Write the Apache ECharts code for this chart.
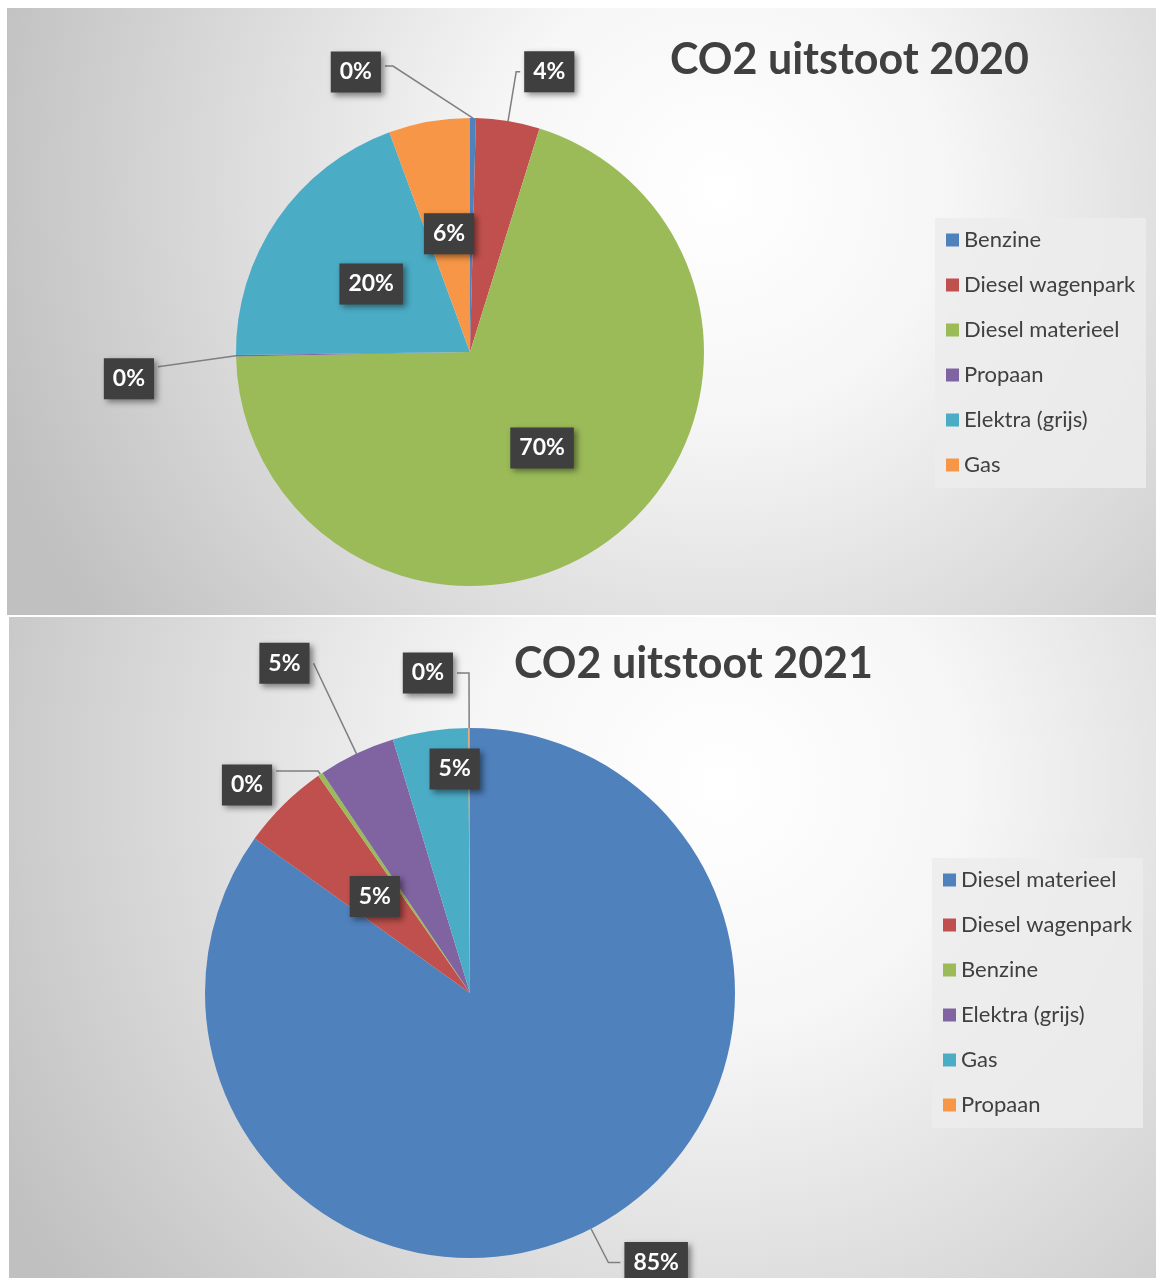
<!DOCTYPE html>
<html>
<head>
<meta charset="utf-8">
<script src="https://cdn.jsdelivr.net/npm/echarts@6/dist/echarts.min.js"></script>
<style>
  html, body { margin: 0; padding: 0; background: #fff; }
  #chart2020 { position: absolute; left: 7px; top: 8px; width: 1149px; height: 607px; }
  #chart2021 { position: absolute; left: 9px; top: 617px; width: 1147px; height: 661px; }
</style>
</head>
<body>
<div id="chart2020"></div>
<div id="chart2021"></div>
<script>
// aandelen CO2 uitstoot (%) per bron
const categories2020 = ['Benzine', 'Diesel wagenpark', 'Diesel materieel', 'Propaan', 'Elektra (grijs)', 'Gas'];
const values2020 = [0.4, 4.4, 69.9, 0.1, 19.6, 5.6];

const categories2021 = ['Diesel materieel', 'Diesel wagenpark', 'Benzine', 'Elektra (grijs)', 'Gas', 'Propaan'];
const values2021 = [84.9, 5.4, 0.3, 4.7, 4.6, 0.1];

const palette = ['#4f81bd', '#c0504d', '#9bbb59', '#8064a2', '#4bacc6', '#f79646'];

// plaatsing van de labels (binnen of buiten met lijn)
const labelSetup2020 = {
  'Benzine': { pos: 'outside', len: 52, len2: 88 },
  'Diesel wagenpark': { pos: 'outside', len: 50, len2: 4 },
  'Propaan': { pos: 'outside', len: 70, len2: 8 }
};
const labelSetup2021 = {
  'Diesel materieel': { pos: 'outside', len: 38, len2: 12 },
  'Benzine': { pos: 'outside', len: 4, len2: 42 },
  'Elektra (grijs)': { pos: 'outside', len: 100, len2: 0 },
  'Propaan': { pos: 'outside', len: 55, len2: 12 }
};

const FONT = 'Lato';

function buildData(names, values, setup) {
  return names.map((name, i) => {
    const s = setup[name];
    if (s) {
      return {
        name: name, value: values[i],
        label: { position: 'outside' },
        labelLine: { show: true, length: s.len, length2: s.len2 }
      };
    }
    return { name: name, value: values[i], label: { position: 'inner' }, labelLine: { show: false } };
  });
}

// achtergrond paneel: radiaal verloop zoals Excel
function panelBackground(x, y) {
  return {
    type: 'radial', x: x, y: y, r: 1.25,
    colorStops: [
      { offset: 0, color: '#ffffff' },
      { offset: 0.3, color: '#f6f6f6' },
      { offset: 1, color: '#c0c0c0' }
    ]
  };
}

function makeOption(cfg) {
  return {
    backgroundColor: panelBackground(cfg.bgX, cfg.bgY),
    color: palette,
    textStyle: { fontFamily: FONT },
    animation: false,
    title: {
      text: cfg.title,
      left: cfg.titleLeft, top: cfg.titleTop, padding: 0,
      textStyle: { fontFamily: FONT, fontWeight: 'bold', fontSize: 43, color: '#404040' }
    },
    legend: {
      orient: 'vertical',
      left: cfg.legendLeft, top: cfg.legendTop,
      padding: [11, 11, 12, 11],
      itemGap: 23, itemWidth: 13, itemHeight: 13,
      icon: 'rect',
      backgroundColor: 'rgba(236,236,236,0.85)',
      selectedMode: false,
      textStyle: { fontFamily: FONT, fontSize: 22, color: '#404040' }
    },
    series: [{
      type: 'pie',
      center: cfg.center,
      radius: cfg.radius,
      startAngle: 90,
      clockwise: true,
      avoidLabelOverlap: false,
      emphasis: { disabled: true },
      itemStyle: { borderWidth: 0 },
      data: buildData(cfg.names, cfg.values, cfg.setup),
      label: {
        show: true,
        formatter: p => Math.round(p.percent) + '%',
        color: '#ffffff', fontFamily: FONT, fontWeight: 'bold', fontSize: 23,
        backgroundColor: '#3f3f3f',
        padding: [10, 9, 8, 9],
        shadowColor: 'rgba(0,0,0,0.45)', shadowBlur: 6, shadowOffsetX: 3, shadowOffsetY: 3,
        distanceToLabelLine: 4
      },
      labelLine: { lineStyle: { color: '#7f7f7f', width: 1.5 } },
      labelLayout: cfg.labelLayout
    }]
  };
}

const chart2020 = echarts.init(document.getElementById('chart2020'));
chart2020.setOption(makeOption({
  title: 'CO2 uitstoot 2020', titleLeft: 663, titleTop: 31,
  legendLeft: 928, legendTop: 210,
  center: [463, 344], radius: 234,
  bgX: 0.62, bgY: 0.3,
  names: categories2020, values: values2020, setup: labelSetup2020,
  labelLayout: function (p) {
    const pts = p.labelLinePoints;
    if (!pts) return {};
    // label van Benzine naar links spiegelen, zoals in Excel
    if (p.dataIndex === 0) {
      const len2 = Math.abs(pts[2][0] - pts[1][0]);
      const endX = pts[0][0] - len2;
      return {
        x: endX - 4, y: pts[1][1] + 6, align: 'right', verticalAlign: 'middle',
        labelLinePoints: [pts[0], [endX + 8, pts[1][1]], [endX, pts[1][1]]]
      };
    }
    // label van Propaan iets lager
    if (p.dataIndex === 3) {
      return {
        x: pts[2][0] - 4, y: pts[2][1] + 22, align: 'right', verticalAlign: 'middle',
        labelLinePoints: [pts[0], [pts[2][0], pts[2][1] + 10]]
      };
    }
    return {};
  }
}));

const chart2021 = echarts.init(document.getElementById('chart2021'));
chart2021.setOption(makeOption({
  title: 'CO2 uitstoot 2021', titleLeft: 505, titleTop: 26,
  legendLeft: 923, legendTop: 241,
  center: [461, 376], radius: 265,
  bgX: 0.62, bgY: 0.25,
  names: categories2021, values: values2021, setup: labelSetup2021,
  labelLayout: function (p) {
    // label van Gas staat verder naar de rand
    if (p.dataIndex === 4) return { dx: 5, dy: -90 };
    // label van Benzine iets lager dan de lijn
    const pts = p.labelLinePoints;
    if (p.dataIndex === 2 && pts) {
      return {
        x: pts[2][0] - 4, y: pts[2][1] + 14, align: 'right', verticalAlign: 'middle',
        labelLinePoints: pts
      };
    }
    return {};
  }
}));
</script>
</body>
</html>
